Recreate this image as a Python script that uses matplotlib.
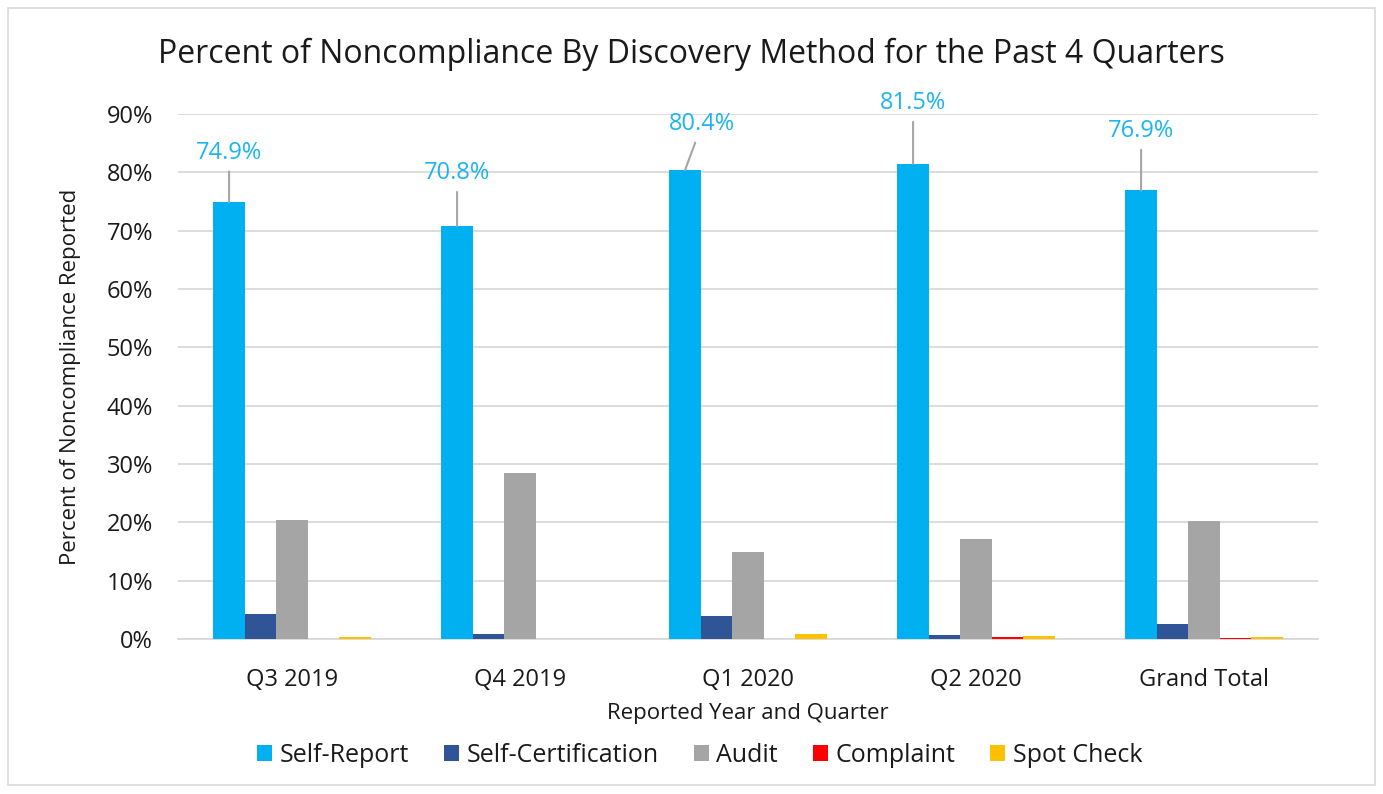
import matplotlib.pyplot as plt
from matplotlib.patches import Rectangle
import numpy as np

plt.rcParams['font.family'] = ['Open Sans', 'DejaVu Sans']

quarters = ['Q3 2019', 'Q4 2019', 'Q1 2020', 'Q2 2020', 'Grand Total']
series = ['Self-Report', 'Self-Certification', 'Audit', 'Complaint', 'Spot Check']
colors = ['#00B0F0', '#2F5597', '#A5A5A5', '#FF0000', '#FFC000']

self_report = [74.9, 70.8, 80.4, 81.5, 76.9]
self_cert = [4.3, 0.8, 4.0, 0.7, 2.6]
audit = [20.4, 28.5, 14.9, 17.1, 20.2]
complaint = [0.0, 0.0, 0.0, 0.3, 0.1]
spot_check = [0.3, 0.0, 0.8, 0.5, 0.3]
values = [self_report, self_cert, audit, complaint, spot_check]

# label placement for the self-report values (text centre, in data units)
label_dx = [0.0, 0.0, 0.075, 0.0, 0.0]
label_y = [83.4, 79.9, 88.3, 91.9, 87.1]

fig = plt.figure(figsize=(13.83, 7.94), dpi=100)
fig.patches.append(Rectangle((0.006, 0.011), 0.988, 0.979, transform=fig.transFigure,
                             fill=False, edgecolor='#D9D9D9', linewidth=1.2))
ax = fig.add_axes([0.1287, 0.1952, 0.8243, 0.6612])

x = np.arange(len(quarters))
w = 0.138
for i, (name, vals, c) in enumerate(zip(series, values, colors)):
    ax.bar(x + (i - 2) * w, vals, w, color=c, label=name, zorder=3)

for i, v in enumerate(self_report):
    bx = x[i] - 2 * w
    ax.annotate(f'{v:.1f}%', xy=(bx, v), xytext=(bx + label_dx[i], label_y[i]),
                ha='center', va='center', fontsize=17, color='#1CB4F0',
                arrowprops=dict(arrowstyle='-', color='#A6A6A6', lw=1.5,
                                shrinkA=3, shrinkB=0), zorder=4)

ax.set_xlim(-0.5, 4.5)
ax.set_ylim(0, 90)
ax.set_yticks(np.arange(0, 91, 10))
ax.set_yticklabels([f'{t}%' for t in range(0, 91, 10)])
ax.set_xticks(x)
ax.set_xticklabels(quarters)
ax.tick_params(axis='both', length=0, labelsize=17, colors='#1a1a1a')
ax.tick_params(axis='x', pad=21)
ax.tick_params(axis='y', pad=18)
ax.yaxis.grid(True, color='#D9D9D9', linewidth=1.3, zorder=0)
ax.set_axisbelow(True)
for s in ['top', 'right', 'left']:
    ax.spines[s].set_visible(False)
ax.spines['bottom'].set_color('#D9D9D9')
ax.spines['bottom'].set_linewidth(1.3)

ax.set_xlabel('Reported Year and Quarter', fontsize=16, color='#1a1a1a', labelpad=8)
ax.set_ylabel('Percent of Noncompliance Reported', fontsize=16, color='#1a1a1a', labelpad=18)
fig.text(0.5, 0.931, 'Percent of Noncompliance By Discovery Method for the Past 4 Quarters',
         ha='center', va='center', fontsize=23, color='#1a1a1a')

ax.legend(loc='center', bbox_to_anchor=(0.506, 0.049), bbox_transform=fig.transFigure,
          ncol=5, frameon=False, fontsize=18, handlelength=0.6, handleheight=0.6,
          handletextpad=0.3, columnspacing=1.4, labelcolor='#1a1a1a')

fig.savefig('out.png', dpi=100)
